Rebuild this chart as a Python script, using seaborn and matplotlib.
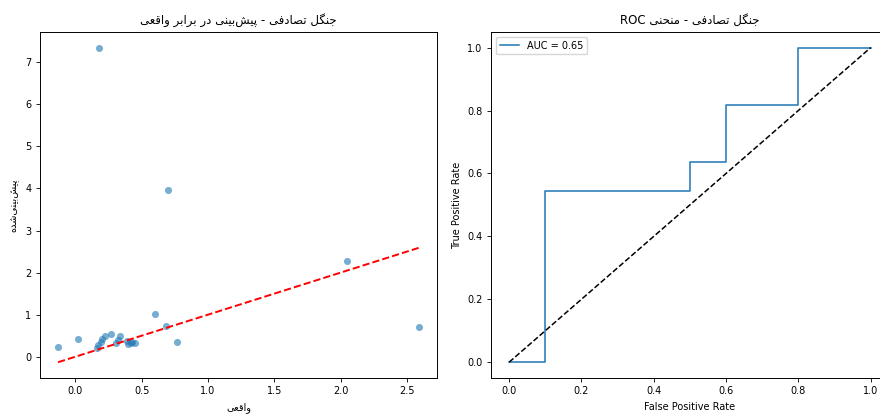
#!/usr/bin/env python3
"""Random forest: predicted vs actual scatter and ROC curve, side by side."""

import matplotlib

matplotlib.use("Agg")
import matplotlib.pyplot as plt
import numpy as np
import seaborn as sns

# regression part: actual vs predicted values
actual = [-0.13, 0.02, 0.16, 0.17, 0.19, 0.20, 0.22, 0.27, 0.31, 0.32, 0.34,
          0.39, 0.40, 0.42, 0.43, 0.45, 0.60, 0.68, 0.77, 0.18, 0.70, 2.05, 2.59]
predicted = [0.24, 0.43, 0.21, 0.29, 0.35, 0.41, 0.50, 0.53, 0.33, 0.40, 0.50,
             0.37, 0.30, 0.33, 0.36, 0.33, 1.02, 0.72, 0.35, 7.35, 3.97, 2.28, 0.71]

# classification part: ROC curve points
fpr = [0.0, 0.1, 0.1, 0.5, 0.5, 0.6, 0.6, 0.8, 0.8, 1.0]
tpr = [0.0, 0.0, 6 / 11, 6 / 11, 7 / 11, 7 / 11, 9 / 11, 9 / 11, 1.0, 1.0]

TITLE_LEFT = "جنگل تصادفی - پیش\u200cبینی در برابر واقعی"
TITLE_RIGHT = "جنگل تصادفی - منحنی ROC"
XLABEL_LEFT = "واقعی"
YLABEL_LEFT = "پیش\u200cبینی\u200cشده"

# presentation forms: (isolated, final, initial, medial); 2-tuples join only to the right
FORMS = {
    "ا": (0xFE8D, 0xFE8E),
    "ب": (0xFE8F, 0xFE90, 0xFE91, 0xFE92),
    "پ": (0xFB56, 0xFB57, 0xFB58, 0xFB59),
    "ت": (0xFE95, 0xFE96, 0xFE97, 0xFE98),
    "ج": (0xFE9D, 0xFE9E, 0xFE9F, 0xFEA0),
    "ح": (0xFEA1, 0xFEA2, 0xFEA3, 0xFEA4),
    "د": (0xFEA9, 0xFEAA),
    "ر": (0xFEAD, 0xFEAE),
    "ش": (0xFEB5, 0xFEB6, 0xFEB7, 0xFEB8),
    "ص": (0xFEB9, 0xFEBA, 0xFEBB, 0xFEBC),
    "ع": (0xFEC9, 0xFECA, 0xFECB, 0xFECC),
    "ف": (0xFED1, 0xFED2, 0xFED3, 0xFED4),
    "ق": (0xFED5, 0xFED6, 0xFED7, 0xFED8),
    "گ": (0xFB92, 0xFB93, 0xFB94, 0xFB95),
    "ل": (0xFEDD, 0xFEDE, 0xFEDF, 0xFEE0),
    "م": (0xFEE1, 0xFEE2, 0xFEE3, 0xFEE4),
    "ن": (0xFEE5, 0xFEE6, 0xFEE7, 0xFEE8),
    "ه": (0xFEE9, 0xFEEA, 0xFEEB, 0xFEEC),
    "و": (0xFEED, 0xFEEE),
    "ی": (0xFBFC, 0xFBFD, 0xFBFE, 0xFBFF),
}


def shape(text: str) -> str:
    """Join Persian letters and lay the string out right to left."""
    out = []
    for i, ch in enumerate(text):
        if ch not in FORMS:
            if ch != "\u200c":
                out.append(ch)
            continue
        prev = text[i - 1] if i > 0 else ""
        nxt = text[i + 1] if i + 1 < len(text) else ""
        forms = FORMS[ch]
        joins_prev = prev in FORMS and len(FORMS[prev]) == 4
        joins_next = len(forms) == 4 and nxt in FORMS
        if joins_prev and joins_next:
            code = forms[3]
        elif joins_next:
            code = forms[2]
        elif joins_prev:
            code = forms[1]
        else:
            code = forms[0]
        out.append(chr(code))
    visual = "".join(reversed(out))
    # latin runs keep their own order
    result, run = [], []
    for ch in visual:
        if ch.isascii() and ch.isalnum():
            run.append(ch)
        else:
            result.extend(reversed(run))
            run = []
            result.append(ch)
    result.extend(reversed(run))
    return "".join(result)


def main() -> None:
    plt.rcParams["font.family"] = ["DejaVu Sans"]
    plt.rcParams["font.size"] = 7
    plt.rcParams["axes.linewidth"] = 0.7
    plt.rcParams["xtick.major.width"] = 0.6
    plt.rcParams["ytick.major.width"] = 0.6
    plt.rcParams["xtick.major.size"] = 2.6
    plt.rcParams["ytick.major.size"] = 2.6

    fig = plt.figure(figsize=(8.8, 4.19), dpi=100)
    ax1 = fig.add_axes([0.0455, 0.098, 0.451, 0.826])
    ax2 = fig.add_axes([0.558, 0.098, 0.452, 0.826])

    sns.scatterplot(x=actual, y=predicted, ax=ax1, alpha=0.6, s=26,
                    linewidth=0, color="C0")
    lo, hi = min(actual), max(actual)
    sns.lineplot(x=[lo, hi], y=[lo, hi], ax=ax1, color="r", linestyle="--",
                 linewidth=1.4)
    ax1.set_title(shape(TITLE_LEFT), fontsize=8.5)
    ax1.set_xlabel(shape(XLABEL_LEFT))
    ax1.set_ylabel(shape(YLABEL_LEFT))

    auc = np.trapezoid(tpr, fpr)
    sns.lineplot(x=fpr, y=tpr, ax=ax2, sort=False, estimator=None,
                 color="C0", linewidth=1.1, label=f"AUC = {auc:.2f}")
    sns.lineplot(x=[0, 1], y=[0, 1], ax=ax2, color="k", linestyle="--",
                 linewidth=1.1)
    ax2.set_title(shape(TITLE_RIGHT), fontsize=8.5)
    ax2.set_xlabel("False Positive Rate")
    ax2.set_ylabel("True Positive Rate")
    ax2.legend(loc="upper left", fontsize=7)

    fig.savefig("out.png", dpi=100)


if __name__ == "__main__":
    main()
